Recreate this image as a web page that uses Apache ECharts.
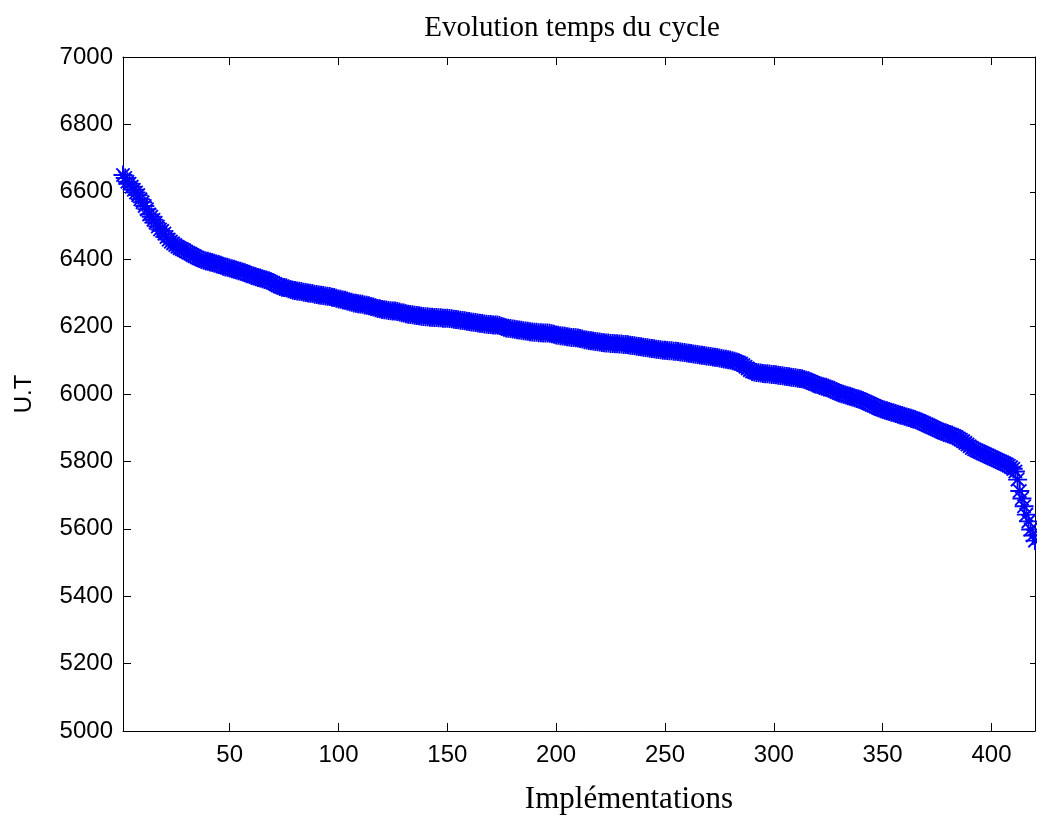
<!DOCTYPE html>
<html>
<head>
<meta charset="utf-8">
<script src="https://cdn.jsdelivr.net/npm/echarts@6/dist/echarts.min.js"></script>
<style>
html,body{margin:0;padding:0;background:#fff;}
#chart{width:1037px;height:821px;}
</style>
</head>
<body>
<div id="chart"></div>
<script>
// Cycle time (U.T) for implementations 1..420
const cycleTimes = [
6650,6641,6630,6624,6615,6606,6598,6590,6578,6569,
6558,6548,6533,6526,6517,6508,6497,6488,6484,6476,
6466,6458,6452,6447,6442,6437,6433,6430,6427,6423,
6419,6416,6412,6409,6405,6402,6399,6397,6395,6394,
6392,6390,6388,6386,6384,6382,6379,6377,6376,6374,
6372,6370,6368,6366,6364,6362,6360,6357,6355,6352,
6350,6348,6346,6344,6342,6340,6338,6336,6333,6330,
6326,6322,6319,6317,6316,6315,6312,6310,6308,6307,
6306,6305,6304,6302,6301,6300,6299,6298,6296,6295,
6294,6293,6292,6291,6290,6289,6287,6286,6284,6282,
6281,6279,6278,6276,6274,6272,6270,6269,6268,6267,
6266,6264,6263,6262,6260,6258,6256,6254,6253,6251,
6250,6249,6248,6247,6246,6246,6245,6243,6241,6240,
6238,6237,6236,6235,6234,6233,6232,6231,6230,6229,
6229,6228,6228,6227,6227,6226,6226,6225,6225,6225,
6224,6223,6222,6221,6220,6219,6218,6217,6216,6215,
6214,6213,6212,6211,6210,6209,6208,6207,6206,6206,
6205,6205,6205,6203,6200,6198,6196,6195,6194,6193,
6192,6191,6190,6189,6188,6187,6186,6185,6184,6183,
6183,6182,6182,6181,6181,6181,6180,6179,6177,6175,
6174,6173,6172,6171,6170,6169,6168,6168,6167,6166,
6165,6163,6161,6160,6159,6158,6157,6156,6155,6154,
6153,6152,6151,6151,6150,6150,6149,6149,6148,6148,
6147,6147,6146,6145,6144,6143,6142,6141,6140,6139,
6138,6137,6136,6135,6134,6133,6132,6131,6130,6130,
6129,6128,6128,6127,6127,6126,6125,6124,6123,6122,
6121,6120,6119,6118,6117,6116,6115,6114,6113,6112,
6111,6110,6109,6108,6107,6105,6104,6103,6102,6101,
6099,6097,6095,6093,6090,6086,6081,6076,6071,6067,
6065,6064,6063,6062,6061,6060,6060,6059,6058,6058,
6057,6056,6055,6054,6053,6052,6051,6050,6049,6048,
6047,6046,6045,6043,6041,6039,6036,6033,6030,6028,
6025,6023,6021,6020,6018,6015,6012,6009,6006,6003,
6001,5999,5997,5995,5993,5991,5989,5987,5985,5983,
5980,5977,5974,5971,5968,5965,5962,5959,5956,5954,
5952,5950,5948,5946,5944,5942,5940,5938,5936,5934,
5932,5930,5928,5926,5924,5921,5919,5916,5913,5910,
5907,5904,5901,5898,5895,5892,5889,5886,5884,5882,
5880,5878,5875,5872,5868,5864,5860,5855,5850,5845,
5840,5836,5833,5830,5827,5824,5821,5818,5815,5812,
5809,5806,5803,5800,5797,5794,5791,5787,5783,5778,
5770,5746,5712,5690,5667,5642,5622,5598,5580,5565
];
const xTicks = [50,100,150,200,250,300,350,400];
const yTicks = [5000,5200,5400,5600,5800,6000,6200,6400,6600,6800,7000];
const chartTitle = 'Evolution temps du cycle';
const xName = 'Implémentations';
const yName = 'U.T';

const points = cycleTimes.map((v, i) => [i + 1, v]);
const asterisk = 'path://M0 45H100V55H0Z M45 0H55V100H45Z M11.5 18.5L18.5 11.5L88.5 81.5L81.5 88.5Z M81.5 11.5L88.5 18.5L18.5 88.5L11.5 81.5Z';

const chart = echarts.init(document.getElementById('chart'), null, {renderer: 'canvas'});
const sans = 'Liberation Sans, Arial, sans-serif';
const serif = 'Liberation Serif, Times New Roman, serif';
const axisLine = {show: true, onZero: false, lineStyle: {color: '#000', width: 1}};
const plain = v => String(v);
chart.setOption({
  animation: false,
  backgroundColor: '#fff',
  grid: {left: 123, right: 2, top: 57, bottom: 90, containLabel: false, outerBoundsMode: 'none'},
  graphic: [
    {type: 'text', x: 572, y: 28, style: {text: chartTitle, font: '29px ' + serif, fill: '#000', textAlign: 'center', textVerticalAlign: 'middle'}},
    {type: 'text', x: 629, y: 800, style: {text: xName, font: '31px ' + serif, fill: '#000', textAlign: 'center', textVerticalAlign: 'middle'}}
  ],
  xAxis: [
    {type: 'value', min: 1, max: 420, position: 'bottom',
     axisLine: axisLine,
     axisTick: {show: true, inside: true, length: 8, customValues: xTicks, lineStyle: {color: '#000'}},
     axisLabel: {show: true, customValues: xTicks, formatter: plain, margin: 12, color: '#000', fontSize: 24, fontFamily: sans},
     splitLine: {show: false}},
    {type: 'value', min: 1, max: 420, position: 'top',
     axisLine: axisLine,
     axisTick: {show: true, inside: true, length: 8, customValues: xTicks, lineStyle: {color: '#000'}},
     axisLabel: {show: false},
     splitLine: {show: false}}
  ],
  yAxis: [
    {type: 'value', min: 5000, max: 7000, interval: 200, position: 'left',
     name: yName, nameLocation: 'middle', nameRotate: 90, nameGap: 87,
     nameTextStyle: {color: '#000', fontSize: 24, fontFamily: sans},
     axisLine: axisLine,
     axisTick: {show: true, inside: true, length: 8, lineStyle: {color: '#000'}},
     axisLabel: {show: true, formatter: plain, margin: 10, color: '#000', fontSize: 24, fontFamily: sans},
     splitLine: {show: false}},
    {type: 'value', min: 5000, max: 7000, interval: 200, position: 'right',
     axisLine: axisLine,
     axisTick: {show: true, inside: true, length: 5, lineStyle: {color: '#000'}},
     axisLabel: {show: false},
     splitLine: {show: false}}
  ],
  series: [{
    type: 'scatter',
    xAxisIndex: 0, yAxisIndex: 0,
    data: points,
    symbol: asterisk,
    symbolSize: 19,
    itemStyle: {color: '#0000ff', opacity: 1},
    silent: true
  }]
});
</script>
</body>
</html>
